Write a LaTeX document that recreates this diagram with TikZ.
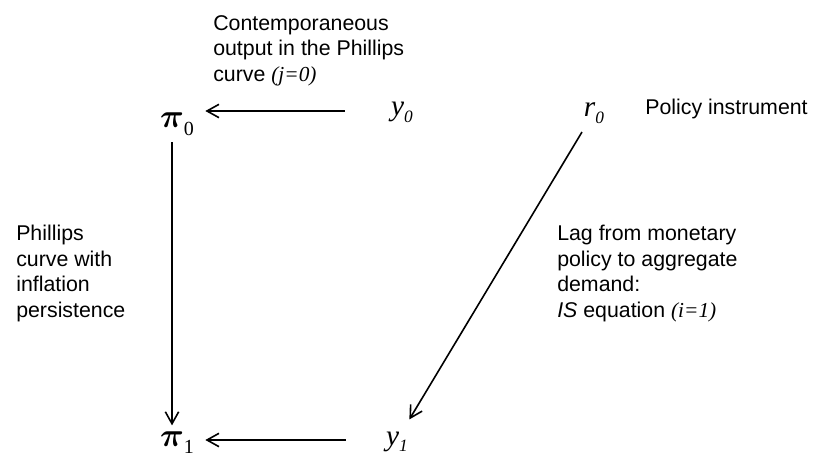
\documentclass[tikz,border=0pt]{standalone}
\usepackage{bm}
\usepackage{fontspec}
\setmainfont{Liberation Serif}
\setsansfont{Liberation Sans}
\usepackage{tikz}
\usetikzlibrary{arrows.meta,positioning}
\newcommand{\pisym}{$\bm{\pi}$}
\newcommand{\pisub}[1]{\raisebox{-5.5pt}{\fontsize{15pt}{15pt}\selectfont\upshape #1}}
\newcommand{\itsub}[1]{\raisebox{-5pt}{\fontsize{13pt}{13pt}\selectfont\itshape #1}}
\newcommand{\eqlabel}[1]{{\rmfamily\itshape #1}}
\tikzset{
  pivar/.style={inner sep=0pt, anchor=base, font=\fontsize{27pt}{27pt}\selectfont,
    text height=11.25pt, text depth=0pt},
  outvar/.style={inner sep=0pt, anchor=base, font=\fontsize{22pt}{22pt}\selectfont\itshape,
    text height=12pt, text depth=4.5pt},
  note/.style={inner sep=0pt, align=left, font=\sffamily\fontsize{16pt}{19.2pt}\selectfont},
  linkarrow/.style={-{Straight Barb[length=9pt,width=10pt]}, draw=black, line width=1.2pt},
}

\begin{document}
\begin{tikzpicture}[x=0.75pt, y=-0.75pt]
  \useasboundingbox (0,0) rectangle (813,459);

  % ============ Variables ============
  \node[pivar]  (pi0) at (172,128) {\pisym\rlap{\pisub{0}}};
  \node[pivar]  (pi1) at (172,446) {\pisym\rlap{\pisub{1}}};
  \node[outvar] (y0)  at (402,116) {y\itsub{0}};
  \node[outvar] (y1)  at (397,445) {y\itsub{1}};
  \node[outvar] (r0)  at (594,117) {r\itsub{0}};

  % ============ Notes ============
  \node[note, anchor=north west] (ctext) at (213,15)
    {Contemporaneous\\output in the Phillips\\curve \eqlabel{(j=0)}};
  \node[note, anchor=base west] (ptext) at (645,115) {Policy instrument};
  \node[note, anchor=north west] (phtext) at (16,225)
    {Phillips\\curve with\\inflation\\persistence};
  \node[note, anchor=north west] (lagtext) at (557,225)
    {Lag from monetary\\policy to aggregate\\demand:\\\textit{IS} equation \eqlabel{(i=1)}};

  % ============ Links ============
  \draw[linkarrow, shorten <=34.5pt, shorten >=25pt] (y0) -- (y0 -| pi0);
  \draw[linkarrow, shorten <=30pt, shorten >=25pt] (y1) -- (y1 -| pi1);
  \draw[linkarrow, shorten <=10.5pt, shorten >=4pt] (pi0.south) -- (pi1.north);
  \draw[linkarrow, shorten <=17.5pt, shorten >=18pt] (r0.center) -- (y1.center);

\end{tikzpicture}
\end{document}
